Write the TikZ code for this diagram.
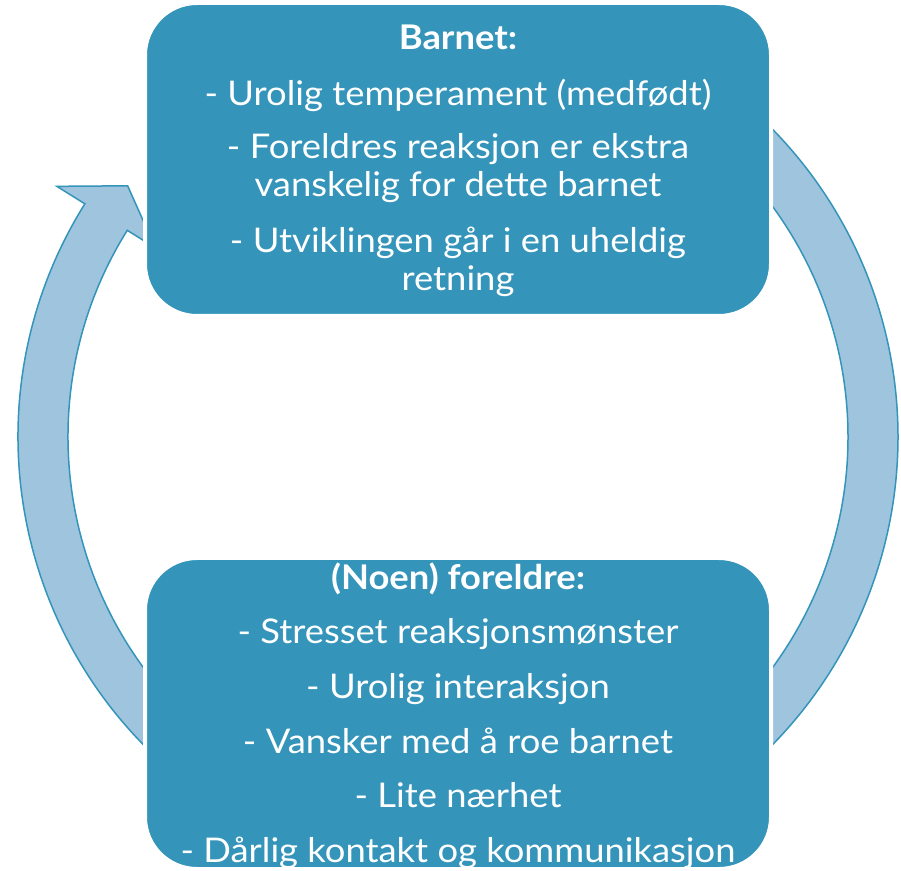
\documentclass[tikz,border=0pt]{standalone}
\usepackage{fontspec}
\setmainfont{Lato}[FakeStretch=1.07]
\definecolor{boxblue}{RGB}{52,148,186}
\definecolor{arcfill}{RGB}{158,196,222}
\definecolor{arcline}{RGB}{52,148,186}
\begin{document}
\begin{tikzpicture}[x=1pt,y=1pt,
  box/.style={rectangle, rounded corners=52pt, fill=boxblue, draw=white, line width=4pt,
    minimum width=626pt, text=white, align=center, inner sep=0pt,
    font=\fontsize{34}{38}\selectfont},
  ring/.style={fill=arcfill, draw=arcline, line width=1.5pt, line join=miter}]
\useasboundingbox (0,0) rectangle (901,870);
\coordinate (c) at (458,433);
\begin{scope}[shift={(c)}]
  % right arc (top box -> bottom box)
  \draw[ring] (55:440) arc[start angle=55, end angle=-55, radius=440]
    -- (-55:390) arc[start angle=-55, end angle=55, radius=390] -- cycle;
  % left arc with arrowhead (bottom box -> top box)
  \draw[ring] (235:440) arc[start angle=235, end angle=148, radius=440]
    -- (148:473) -- (142.75:415) -- (148:357) -- (148:390)
    arc[start angle=148, end angle=235, radius=390] -- cycle;
\end{scope}
\node[box, minimum height=313pt] (barn) at (458,710.5) {};
\node[text=white, align=center, inner sep=0pt, font=\fontsize{34}{38}\selectfont]
  (barntxt) at ([yshift=-1pt]barn.center)
  {\textbf{Barnet:}\\[18pt]
   - Urolig temperament (medfødt)\\[15pt]
   - Foreldres reaksjon er ekstra\\
   vanskelig for dette barnet\\[18pt]
   - Utviklingen går i en uheldig\\
   retning};
\node[box, minimum height=311pt] (foreldre) at (458,156.5) {};
\node[text=white, align=center, inner sep=0pt, font=\fontsize{34}{38}\selectfont]
  (foreldretxt) at ([yshift=-2pt]foreldre.center)
  {\textbf{(Noen) foreldre:}\\[16.6pt]
   - Stresset reaksjonsmønster\\[16.6pt]
   - Urolig interaksjon\\[16.6pt]
   - Vansker med å roe barnet\\[16.6pt]
   - Lite nærhet\\[16.6pt]
   - Dårlig kontakt og kommunikasjon};
\end{tikzpicture}
\end{document}
